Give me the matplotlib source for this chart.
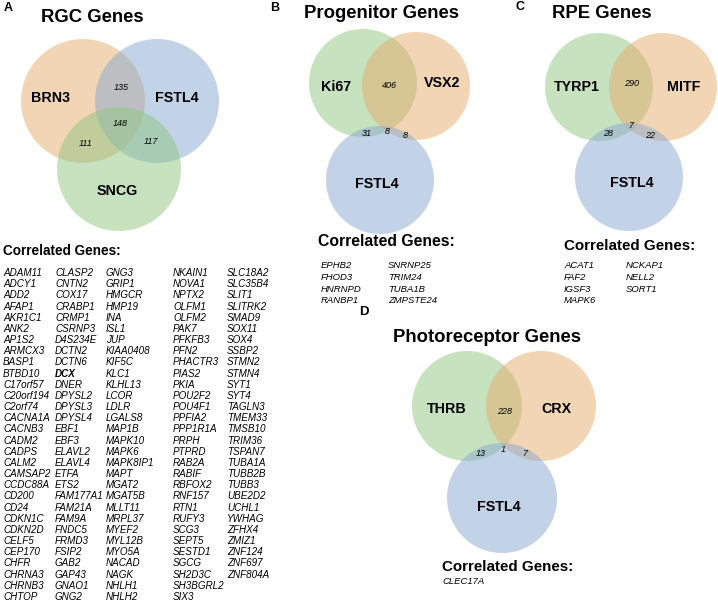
import matplotlib
matplotlib.use("Agg")
import matplotlib.pyplot as plt
from matplotlib.patches import Circle

plt.rcParams['font.family'] = ['Liberation Sans', 'DejaVu Sans']

# ---- data ----
rgc_sets = ["BRN3", "FSTL4", "SNCG"]
rgc_counts = [135, 148, 111, 117]          # AB, ABC, AC, BC
prog_sets = ["Ki67", "VSX2", "FSTL4"]
prog_counts = [406, 31, 8, 8]              # AB, AC, ABC, BC
rpe_sets = ["TYRP1", "MITF", "FSTL4"]
rpe_counts = [290, 28, 7, 22]
photo_sets = ["THRB", "CRX", "FSTL4"]
photo_counts = [228, 13, 1, 7]

rgc_genes = [
    ["ADAM11", "ADCY1", "ADD2", "AFAP1", "AKR1C1", "ANK2", "AP1S2", "ARMCX3",
     "BASP1", "BTBD10", "C17orf57", "C20orf194", "C2orf74", "CACNA1A", "CACNB3",
     "CADM2", "CADPS", "CALM2", "CAMSAP2", "CCDC88A", "CD200", "CD24", "CDKN1C",
     "CDKN2D", "CELF5", "CEP170", "CHFR", "CHRNA3", "CHRNB3", "CHTOP"],
    ["CLASP2", "CNTN2", "COX17", "CRABP1", "CRMP1", "CSRNP3", "D4S234E", "DCTN2",
     "DCTN6", "DCX", "DNER", "DPYSL2", "DPYSL3", "DPYSL4", "EBF1", "EBF3",
     "ELAVL2", "ELAVL4", "ETFA", "ETS2", "FAM177A1", "FAM21A", "FAM9A", "FNDC5",
     "FRMD3", "FSIP2", "GAB2", "GAP43", "GNAO1", "GNG2"],
    ["GNG3", "GRIP1", "HMGCR", "HMP19", "INA", "ISL1", "JUP", "KIAA0408", "KIF5C",
     "KLC1", "KLHL13", "LCOR", "LDLR", "LGALS8", "MAP1B", "MAPK10", "MAPK6",
     "MAPK8IP1", "MAPT", "MGAT2", "MGAT5B", "MLLT11", "MRPL37", "MYEF2", "MYL12B",
     "MYO5A", "NACAD", "NAGK", "NHLH1", "NHLH2"],
    ["NKAIN1", "NOVA1", "NPTX2", "OLFM1", "OLFM2", "PAK7", "PFKFB3", "PFN2",
     "PHACTR3", "PIAS2", "PKIA", "POU2F2", "POU4F1", "PPFIA2", "PPP1R1A", "PRPH",
     "PTPRD", "RAB2A", "RABIF", "RBFOX2", "RNF157", "RTN1", "RUFY3", "SCG3",
     "SEPT5", "SESTD1", "SGCG", "SH2D3C", "SH3BGRL2", "SIX3"],
    ["SLC18A2", "SLC35B4", "SLIT1", "SLITRK2", "SMAD9", "SOX11", "SOX4", "SSBP2",
     "STMN2", "STMN4", "SYT1", "SYT4", "TAGLN3", "TMEM33", "TMSB10", "TRIM36",
     "TSPAN7", "TUBA1A", "TUBB2B", "TUBB3", "UBE2D2", "UCHL1", "YWHAG", "ZFHX4",
     "ZMIZ1", "ZNF124", "ZNF697", "ZNF804A"],
]
rgc_bold = ["DCX"]
prog_genes = [["EPHB2", "FHOD3", "HNRNPD", "RANBP1"],
              ["SNRNP25", "TRIM24", "TUBA1B", "ZMPSTE24"]]
rpe_genes = [["ACAT1", "FAF2", "IGSF3", "MAPK6"],
             ["NCKAP1", "NELL2", "SORT1"]]
photo_genes = [["CLEC17A"]]

# ---- colours ----
ORANGE = "#E6AC6A"
BLUE = "#89A9D1"
GREEN = "#8FC781"

fig = plt.figure(figsize=(7.18, 6.05), dpi=100)
ax = fig.add_axes([0, 0, 1, 1])
ax.set_xlim(0, 718)
ax.set_ylim(605, 0)
ax.axis('off')


def venn(centers, r, colors, names, name_pos, counts, count_pos):
    for (cx, cy), c in zip(centers, colors):
        ax.add_patch(Circle((cx, cy), r, facecolor=c, alpha=0.5, edgecolor='none'))
    for n, (x, y) in zip(names, name_pos):
        ax.text(x, y, n, ha='center', va='center', fontsize=10.3,
                fontweight='bold')
    for v, (x, y) in zip(counts, count_pos):
        ax.text(x, y, str(v), ha='center', va='center', fontsize=6.5,
                style='italic')


def genes(cols, x0s, y0, dy, size, bold=()):
    for col, x0 in zip(cols, x0s):
        for i, g in enumerate(col):
            ax.text(x0, y0 + i * dy, g, ha='left', va='center', fontsize=size,
                    style='italic', fontweight='bold' if g in bold else 'normal')


# panel A
ax.text(4, 8, "A", fontsize=9, fontweight='bold', ha='left', va='center')
ax.text(92, 18, "RGC Genes", fontsize=13.3, fontweight='bold', ha='center', va='center')
venn([(83, 101), (157, 101), (119, 169)], 62, [ORANGE, BLUE, GREEN], rgc_sets,
     [(50, 98), (177, 98), (117, 191)], rgc_counts,
     [(121, 88), (120, 124), (86, 143), (151, 142)])
ax.text(3, 251, "Correlated Genes:", fontsize=9.8, fontweight='bold', ha='left', va='center')
genes(rgc_genes, [3, 55, 106, 173, 227], 273, 11.17, 7.1, rgc_bold)

# panel B
ax.text(270, 8, "B", fontsize=9, fontweight='bold', ha='left', va='center')
ax.text(381, 14, "Progenitor Genes", fontsize=13.3, fontweight='bold', ha='center', va='center')
venn([(363, 83), (416, 86), (380, 180)], 54, [GREEN, ORANGE, BLUE], prog_sets,
     [(336, 87), (442, 83), (377, 184)], prog_counts,
     [(389, 85), (367, 134), (387, 131), (405, 136)])
ax.text(318, 242, "Correlated Genes:", fontsize=11.3, fontweight='bold', ha='left', va='center')
genes(prog_genes, [321, 388], 266, 11.5, 6.8)

# panel C
ax.text(516, 7, "C", fontsize=9, fontweight='bold', ha='left', va='center')
ax.text(602, 13, "RPE Genes", fontsize=13.3, fontweight='bold', ha='center', va='center')
venn([(599, 87), (663, 87), (629, 177)], 54, [GREEN, ORANGE, BLUE], rpe_sets,
     [(577, 87), (684, 87), (632, 183)], rpe_counts,
     [(632, 84), (608, 134), (631, 126), (650, 136)])
ax.text(564, 246, "Correlated Genes:", fontsize=10.9, fontweight='bold', ha='left', va='center')
genes(rpe_genes, [564, 626], 266, 11.5, 6.8)

# panel D
ax.text(359, 312, "D", fontsize=9.5, fontweight='bold', ha='left', va='center')
ax.text(487, 338, "Photoreceptor Genes", fontsize=13.3, fontweight='bold', ha='center', va='center')
venn([(467, 406), (541, 406), (502, 498)], 55, [GREEN, ORANGE, BLUE], photo_sets,
     [(447, 409), (556, 409), (499, 507)], photo_counts,
     [(505, 412), (481, 453), (503, 449), (525, 453)])
ax.text(442, 567, "Correlated Genes:", fontsize=10.9, fontweight='bold', ha='left', va='center')
genes(photo_genes, [442], 582, 11.5, 6.8)

fig.savefig("out.png", dpi=100)
